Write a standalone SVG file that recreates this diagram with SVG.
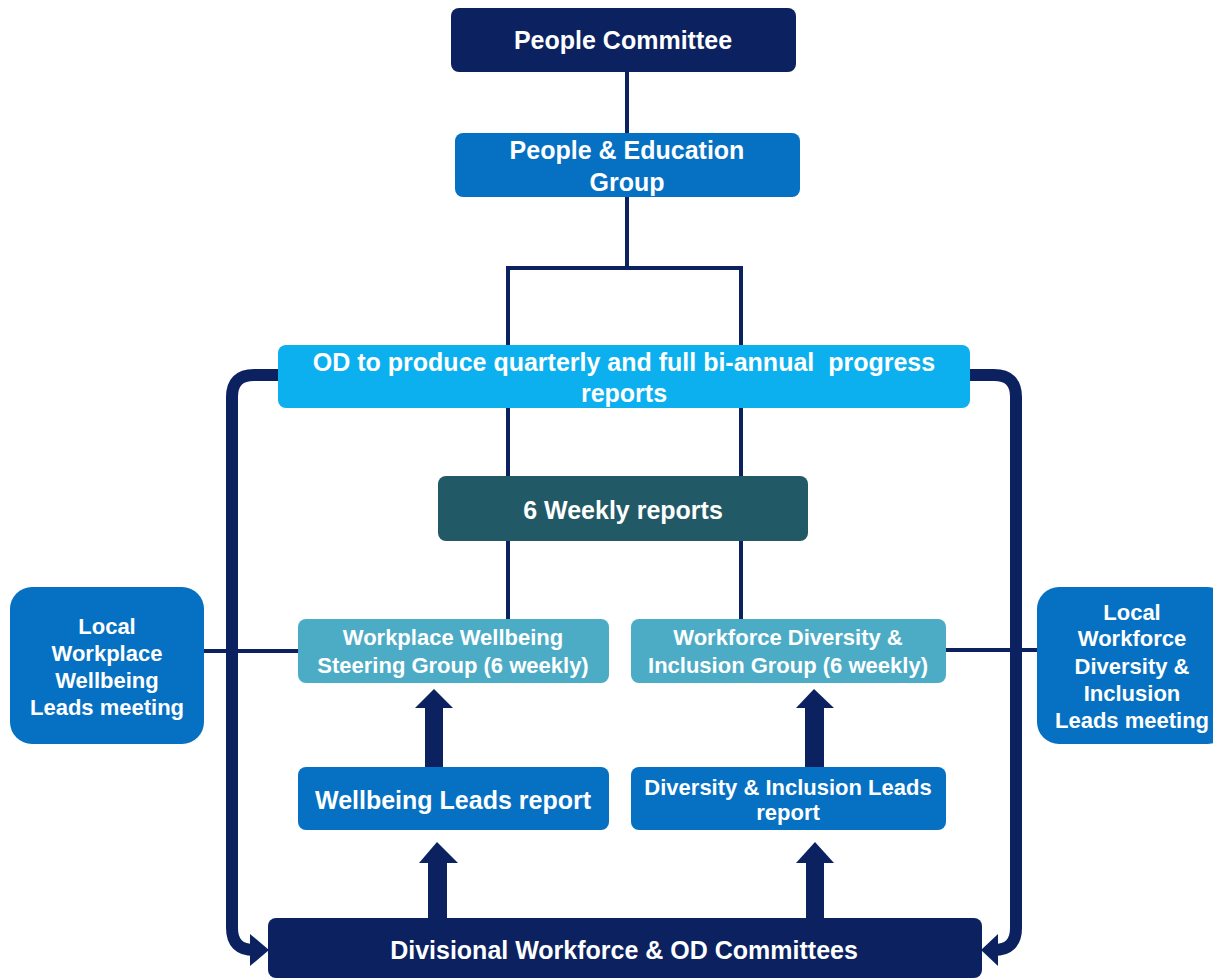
<svg xmlns="http://www.w3.org/2000/svg" width="1213" height="980" viewBox="0 0 1213 980">
<style>
text{font-family:"Liberation Sans",Arial,sans-serif;font-weight:bold;fill:#ffffff;text-anchor:middle}
.navy{fill:#0c2260}
.blue{fill:#0671c2}
.cyan{fill:#0cb0ee}
.teal{fill:#225967}
.aqua{fill:#4cacc6}
.thin{stroke:#0c2260;stroke-width:4;fill:none}
.thick{stroke:#0c2260;stroke-width:12;fill:none}
.head{fill:#0c2260}
.f25{font-size:25px}
.f22{font-size:22px}
</style>
<rect width="1213" height="980" fill="#ffffff"/>
<g id="connectors">
<path class="thin" d="M627,72 V268 M508,268 H741 M508,266 V619 M741,266 V619"/>
<path class="thin" d="M204,651 H298 M946,650 H1037"/>
<path class="thick" d="M278,375 H254 Q232,375 232,397 V928 Q232,950 254,950 H256"/>
<polygon class="head" points="250,934 269,950 250,966"/>
<path class="thick" d="M970,375 H994 Q1016,375 1016,397 V928 Q1016,950 994,950 H992"/>
<polygon class="head" points="998,934 981,950 998,966"/>
<rect class="head" x="425" y="707" width="18" height="61"/>
<polygon class="head" points="415,708 434,689 453,708"/>
<rect class="head" x="805" y="707" width="19" height="61"/>
<polygon class="head" points="796,708 814,689 834,708"/>
<rect class="head" x="428" y="862" width="19" height="57"/>
<polygon class="head" points="419,863 437,842 458,863"/>
<rect class="head" x="806" y="862" width="18" height="57"/>
<polygon class="head" points="796,863 815,842 834,863"/>
</g>
<g id="people-committee">
<rect class="navy" x="451" y="8" width="345" height="64" rx="8"/>
<text class="f25" x="623" y="49">People Committee</text>
</g>
<g id="people-education-group">
<rect class="blue" x="455" y="133" width="345" height="64" rx="8"/>
<text class="f25" x="627" y="159">People &amp; Education</text>
<text class="f25" x="627" y="191">Group</text>
</g>
<g id="od-reports">
<rect class="cyan" x="278" y="345" width="692" height="63" rx="8"/>
<text class="f25" x="624" y="371" style="white-space:pre">OD to produce quarterly and full bi-annual  progress</text>
<text class="f25" x="624" y="402">reports</text>
</g>
<g id="six-weekly-reports">
<rect class="teal" x="438" y="476" width="370" height="65" rx="8"/>
<text class="f25" x="623" y="519">6 Weekly reports</text>
</g>
<g id="local-wellbeing-leads">
<rect class="blue" x="10" y="587" width="194" height="157" rx="22"/>
<text class="f22" x="107" y="634">Local</text>
<text class="f22" x="107" y="661">Workplace</text>
<text class="f22" x="107" y="688">Wellbeing</text>
<text class="f22" x="107" y="715">Leads meeting</text>
</g>
<g id="workplace-wellbeing-steering">
<rect class="aqua" x="298" y="619" width="311" height="64" rx="8"/>
<text class="f22" x="453" y="645">Workplace Wellbeing</text>
<text class="f22" x="453" y="673">Steering Group (6 weekly)</text>
</g>
<g id="workforce-diversity-inclusion">
<rect class="aqua" x="631" y="619" width="315" height="64" rx="8"/>
<text class="f22" x="788" y="645">Workforce Diversity &amp;</text>
<text class="f22" x="788" y="673">Inclusion Group (6 weekly)</text>
</g>
<g id="local-diversity-leads">
<rect class="blue" x="1037" y="587" width="192" height="157" rx="22"/>
<text class="f22" x="1132" y="620">Local</text>
<text class="f22" x="1132" y="646">Workforce</text>
<text class="f22" x="1132" y="674">Diversity &amp;</text>
<text class="f22" x="1132" y="701">Inclusion</text>
<text class="f22" x="1132" y="728">Leads meeting</text>
</g>
<g id="wellbeing-leads-report">
<rect class="blue" x="298" y="767" width="311" height="63" rx="8"/>
<text class="f25" x="453" y="809">Wellbeing Leads report</text>
</g>
<g id="diversity-leads-report">
<rect class="blue" x="631" y="767" width="315" height="63" rx="8"/>
<text class="f22" x="788" y="795">Diversity &amp; Inclusion Leads</text>
<text class="f22" x="788" y="820">report</text>
</g>
<g id="divisional-committees">
<rect class="navy" x="268" y="918" width="714" height="60" rx="8"/>
<text class="f25" x="624" y="959">Divisional Workforce &amp; OD Committees</text>
</g>
</svg>
